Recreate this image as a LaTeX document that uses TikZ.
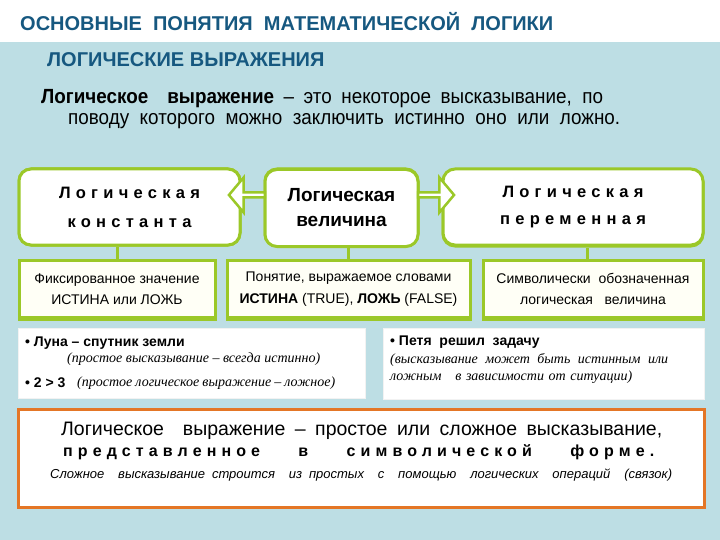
\documentclass[tikz,border=0pt]{standalone}
\usepackage{fontspec}
\setmainfont{Liberation Sans}
\newfontfamily\serifit{Liberation Serif}
\newfontfamily\narrowsans[FakeStretch=0.92]{Liberation Sans}
\usetikzlibrary{shapes.arrows,calc}
\definecolor{bgblue}{RGB}{189,222,228}
\definecolor{titleblue}{RGB}{22,88,128}
\definecolor{lgreen}{RGB}{155,200,40}
\definecolor{orng}{RGB}{228,118,38}
\definecolor{ivory}{RGB}{255,255,246}
\newcommand\fs[2]{\fontsize{#1}{#2}\selectfont}
\newcommand\spc{\addfontfeature{LetterSpace=32}}
\begin{document}
\begin{tikzpicture}[x=1pt,y=-1pt,
  topbox/.style={draw=lgreen, line width=3pt, fill=white, rounded corners=12pt, inner sep=0pt, align=center},
  defbox/.style={draw=lgreen, line width=3pt, fill=ivory, inner sep=0pt, align=center, minimum height=57pt},
  exbox/.style={draw=white!90!gray, line width=0.6pt, fill=white, inner sep=0pt},
  link/.style={draw=lgreen, line width=3pt},
  blockarr/.style={single arrow, draw=lgreen, line width=2.5pt, fill=white, minimum width=35pt, minimum height=36pt, single arrow head extend=7.5pt, single arrow tip angle=100, inner sep=0pt},
  txt/.style={inner sep=0pt, anchor=west},
  bul/.style={txt, font=\bfseries\fs{14}{16}},
  ital/.style={txt, font=\serifit\itshape\fs{14}{16}},
]
\useasboundingbox (0,0) rectangle (720,540);
\fill[bgblue] (0,42) rectangle (720,540);
\fill[white] (0,0) rectangle (720,42);

% titles
\node[txt, text=titleblue, font=\bfseries\fs{20}{24}] (title) at (20,22) {ОСНОВНЫЕ\ \ ПОНЯТИЯ\ \ МАТЕМАТИЧЕСКОЙ\ \ ЛОГИКИ};
\node[txt, text=titleblue, font=\bfseries\fs{20}{24}] (subtitle) at (47,60) {ЛОГИЧЕСКИЕ ВЫРАЖЕНИЯ};

% definition
\node[txt, font=\narrowsans\fs{20.5}{24}] (def1) at (41,99) {\makebox[562pt][s]{\textbf{Логическое\ \ выражение} – это некоторое высказывание, по}};
\node[txt, font=\narrowsans\fs{20.5}{24}] (def2) at (68,121) {\makebox[552pt][s]{поводу которого можно заключить истинно оно или ложно.}};

% boxes used as connector ends
\node[defbox, minimum width=196pt] (dL) at (117,290.5) {};
\node[defbox, minimum width=243pt] (dM) at (348.5,290.5) {};
\node[defbox, minimum width=220pt] (dR) at (593,290.5) {};
\node[topbox, minimum width=221pt, minimum height=76pt] (kL) at (129.5,207) {};
\node[topbox, minimum width=153pt, minimum height=77pt] (kM) at (341.5,207.5) {};
\node[topbox, minimum width=260pt, minimum height=76pt] (kR) at (573,208) {};
\draw[link] (dL.north) -- (dL.north |- kL.south);
\draw[link] (dM.north) -- (dM.north |- kM.south);
\coordinate (dRtop) at ($(dR.north)+(-6,0)$);
\draw[link] (dRtop) -- (dRtop |- kR.south);

% top boxes (redrawn over connectors)
\node[topbox, minimum width=221pt, minimum height=76pt, font=\bfseries\fs{16.5}{29}] (kLt) at (129.5,207) {\spc Логическая\\\spc константа};
\node[topbox, minimum width=153pt, minimum height=77pt, font=\bfseries\fs{19}{25}] (kMt) at (341.5,208) {Логическая\\величина};
\node[topbox, minimum width=260pt, minimum height=76pt, font=\bfseries\fs{16.5}{27}] (kRt) at (573,207) {\spc Логическая\\\spc переменная};

% arrows
\node[blockarr, shape border rotate=180] (arrL) at (248,195) {};
\node[blockarr] (arrR) at (435,195) {};

% definition boxes
\node[defbox, minimum width=196pt, font=\fs{14}{21}] (dLt) at (117,289) {Фиксированное значение\\ИСТИНА или ЛОЖЬ};
\node[defbox, minimum width=243pt, font=\fs{14}{22}] (dMt) at (348.5,289) {Понятие, выражаемое словами\\\textbf{ИСТИНА} (TRUE), \textbf{ЛОЖЬ} (FALSE)};
\node[defbox, minimum width=220pt, font=\fs{14}{21}] (dRt) at (593,289) {Символически\ \ обозначенная\\логическая\ \ \ величина};

% example boxes
\node[exbox, minimum width=347pt, minimum height=70pt] (exL) at (191.5,363) {};
\node[exbox, minimum width=321pt, minimum height=71pt] (exR) at (543.5,363.5) {};
\node[bul] (luna) at (25,343) {• Луна – спутник земли};
\node[ital] (luna2) at (67,359) {\makebox[253pt][s]{(простое высказывание – всегда истинно)}};
\node[bul] (two) at (25,383) {• 2 > 3};
\node[ital] (two2) at (77,383) {\makebox[258pt][s]{(простое логическое выражение – ложное)}};
\node[bul] (petya) at (390,342) {• Петя\ \ решил\ \ задачу};
\node[ital] (petya2) at (390,360) {\makebox[278pt][s]{(высказывание\ \ может\ \ быть\ \ истинным\ \ или}};
\node[ital] (petya3) at (390,377) {\makebox[242pt][s]{ложным\ \ \ в зависимости от ситуации)}};

% bottom box
\node[draw=orng, line width=3pt, fill=white, minimum width=686pt, minimum height=98pt, inner sep=0pt] (bot) at (361,458) {};
\node[txt, font=\fs{19.5}{22}] (b1) at (61,431) {\makebox[601pt][s]{Логическое\ \ выражение – простое или сложное высказывание,}};
\node[txt, font=\bfseries\fs{16}{20}] (b2) at (63,452) {\makebox[591pt][s]{\spc представленное\hfill в\hfill символической\hfill форме.}};
\node[txt, font=\itshape\fs{13}{15}] (b3) at (50,475) {\makebox[622pt][s]{Сложное\ \ высказывание строится\ \ из простых\ \ с\ \ помощью\ \ логических\ \ операций\ \ (связок)}};
\end{tikzpicture}
\end{document}
